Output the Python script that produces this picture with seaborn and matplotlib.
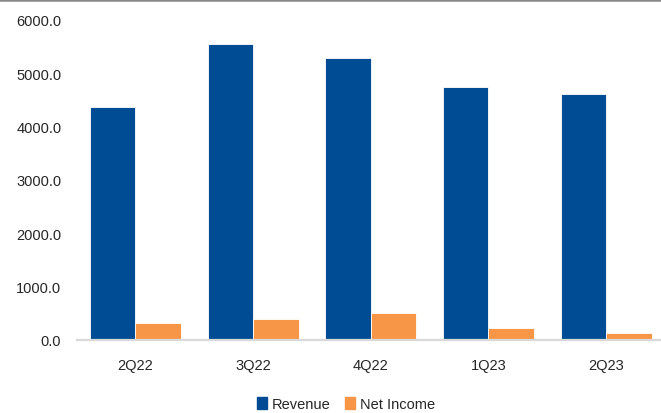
import matplotlib
matplotlib.use("Agg")
import matplotlib.pyplot as plt
import seaborn as sns
import pandas as pd
from matplotlib.ticker import FuncFormatter
from matplotlib.lines import Line2D

quarters = ["2Q22", "3Q22", "4Q22", "1Q23", "2Q23"]
revenue = [4376, 5543, 5294, 4751, 4620]
net_income = [318, 393, 506, 225, 131]
series_names = ["Revenue", "Net Income"]
colors = ["#004C94", "#F79646"]

df = pd.DataFrame({
    "Quarter": quarters * 2,
    "Value": revenue + net_income,
    "Series": [series_names[0]] * len(quarters) + [series_names[1]] * len(quarters),
})

sns.set_theme(style="white")
plt.rcParams["font.family"] = ["Liberation Sans", "DejaVu Sans"]

W, H = 661, 414
fig = plt.figure(figsize=(W / 100, H / 100), dpi=100)
left, right = 76.6, 665.0
bottom, top = 341.0, 21.0
ax = fig.add_axes([left / W, 1 - bottom / H, (right - left) / W, (bottom - top) / H])

sns.barplot(data=df, x="Quarter", y="Value", hue="Series", order=quarters,
            hue_order=series_names, palette=colors, width=0.775, gap=0.0,
            saturation=1, edgecolor="white", linewidth=0.6, ax=ax, legend=False)

ax.set_ylim(0, 6000)
ax.set_xlim(-0.5, 4.5)
ax.set_yticks([0, 1000, 2000, 3000, 4000, 5000, 6000])
ax.yaxis.set_major_formatter(FuncFormatter(lambda v, p: f"{v:.1f}"))
ax.set_xlabel("")
ax.set_ylabel("")
for s in ["top", "right", "left"]:
    ax.spines[s].set_visible(False)
ax.spines["bottom"].set_color("#D9D9D9")
ax.spines["bottom"].set_linewidth(1.6)
ax.tick_params(axis="y", length=0, pad=11, labelsize=10.5, colors="#262626")
ax.tick_params(axis="x", length=0, pad=13, labelsize=10.5, colors="#262626")
ax.grid(False)

handles = [plt.Rectangle((0, 0), 1, 1, color=c) for c in colors]
fig.legend(handles, series_names, loc="center", bbox_to_anchor=(346 / W, 1 - 405 / H),
           ncol=2, frameon=False, fontsize=10.5, handlelength=0.7, handleheight=0.9,
           handletextpad=0.3, columnspacing=1.0, labelcolor="#262626")

fig.add_artist(Line2D([0, 1], [1 - 1 / H, 1 - 1 / H], transform=fig.transFigure,
                      color="#888888", linewidth=1.8))

fig.savefig("out.png", dpi=100)
